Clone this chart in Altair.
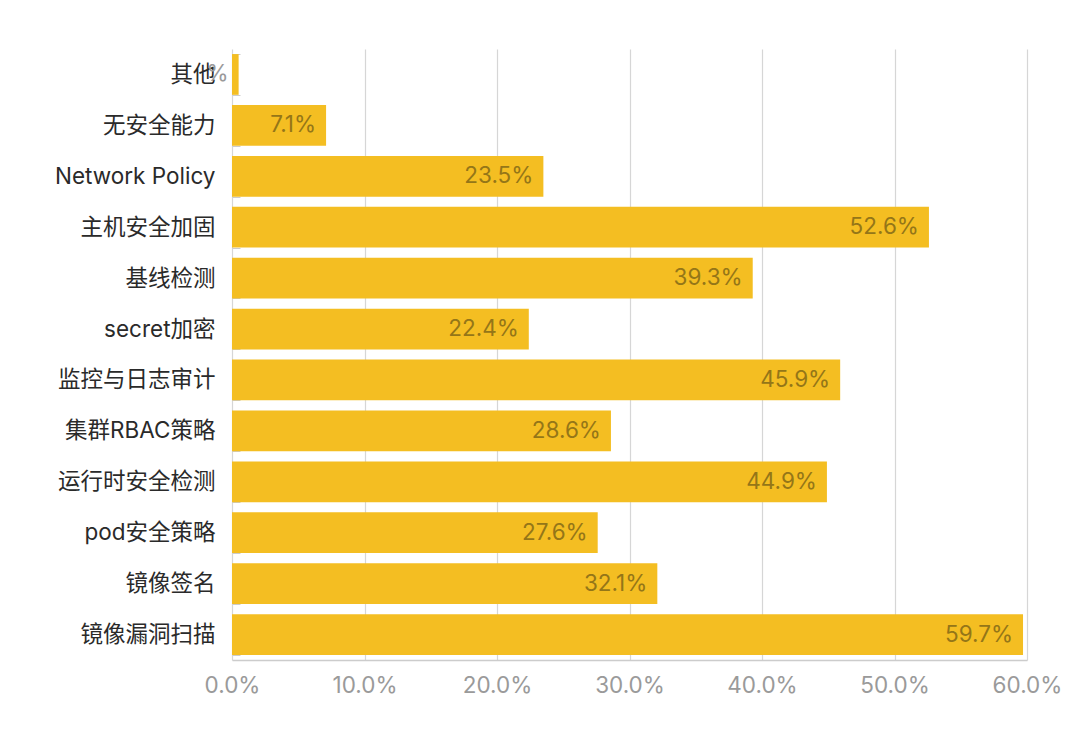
import altair as alt
import pandas as pd

categories = ["其他", "无安全能力", "Network Policy", "主机安全加固", "基线检测", "secret加密",
              "监控与日志审计", "集群RBAC策略", "运行时安全检测", "pod安全策略", "镜像签名", "镜像漏洞扫描"]
values = [0.5, 7.1, 23.5, 52.6, 39.3, 22.4, 45.9, 28.6, 44.9, 27.6, 32.1, 59.7]
x_ticks = [0, 10, 20, 30, 40, 50, 60]

df = pd.DataFrame({"cat": categories, "v": values})

FONT = "Inter, Noto Sans CJK SC, sans-serif"

y_enc = alt.Y("cat:N", sort=categories, title=None,
              scale=alt.Scale(paddingInner=0.2, paddingOuter=0.1),
              axis=alt.Axis(domain=False, ticks=True, tickBand="extent", tickSize=8,
                            tickColor="#cccccc", offset=-8, labelPadding=17,
                            labelFontSize=22.5, labelColor="#2a2a2a", labelFont=FONT,
                            grid=False))

x_enc = alt.X("v:Q", title=None,
              scale=alt.Scale(domain=[0, 60], nice=False),
              axis=alt.Axis(values=x_ticks, labelExpr="format(datum.value, '.1f') + '%'",
                            labelFontSize=22.5, labelColor="#9a9a9a", labelFont=FONT,
                            labelFlush=False, labelPadding=14, ticks=False, domain=True,
                            domainColor="#cccccc", domainWidth=1.5, grid=True,
                            gridColor="#d6d6d6", gridWidth=1.2))

bars = alt.Chart(df).mark_bar(color="#F4BE22").encode(x=x_enc, y=y_enc)

labels = alt.Chart(df).transform_calculate(
    lbl="datum.v < 1 ? '%' : format(datum.v, '.1f') + '%'"
).mark_text(align="right", baseline="middle", dx=-10, fontSize=22.5,
            font=FONT).encode(
    x=alt.X("v:Q"), y=alt.Y("cat:N", sort=categories), text="lbl:N",
    color=alt.condition("datum.v < 1", alt.value("#9a9a9a"), alt.value("#947618")))

chart = alt.layer(bars, labels).properties(
    width=795, height=611,
    autosize=alt.AutoSizeParams(type="none"),
    padding={"left": 232, "top": 49, "right": 53, "bottom": 83},
    background="white",
).configure_view(stroke=None)

chart.save("out.html", embed_options={"renderer": "svg", "actions": False})
